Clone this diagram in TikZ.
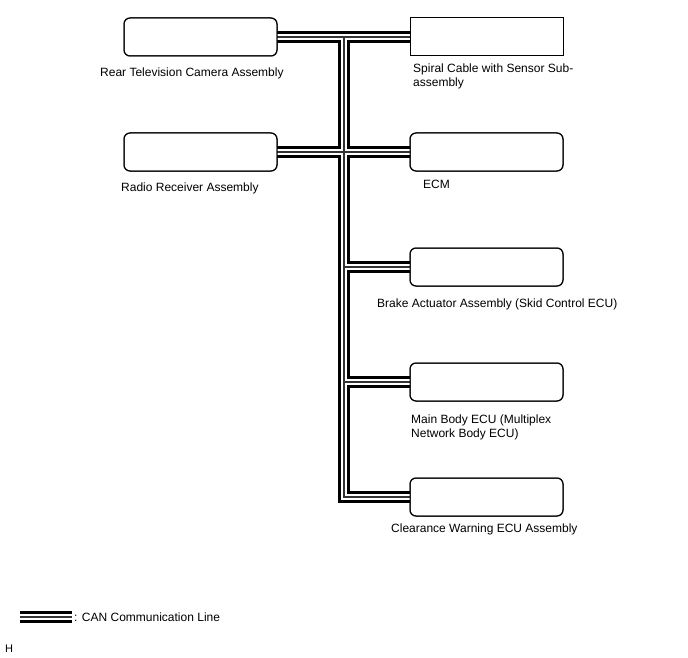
\documentclass[tikz,border=0pt]{standalone}
\usepackage{fontspec}
\setmainfont{Liberation Sans}
\begin{document}
\begin{tikzpicture}[x=1pt,y=-1pt,
  ecu/.style={draw,line width=1pt,rounded corners=6pt,minimum width=153pt,minimum height=38pt,inner sep=0pt},
  ecusq/.style={draw,line width=1pt,minimum width=153pt,minimum height=38pt,inner sep=0pt},
  lbl/.style={anchor=base west,inner sep=0pt,font=\fontsize{12}{14}\selectfont,align=left},
  canA/.style={draw=black,line width=12pt,line join=miter},
  canB/.style={draw=white,line width=6.5pt,line join=miter},
  canC/.style={draw=black!80,line width=1.2pt,line join=miter}]
\useasboundingbox (0,0) rectangle (688,658);
\node[ecu]   (rear)   at (200.5,37)  {};
\node[ecusq] (spiral) at (486.5,37)  {};
\node[ecu]   (radio)  at (200.5,152) {};
\node[ecu]   (ecm)    at (486.5,152) {};
\node[ecu]   (brake)  at (486.5,267) {};
\node[ecu]   (mainb)  at (486.5,382) {};
\node[ecu]   (clear)  at (486.5,497) {};
\coordinate (top) at (344,37);
\coordinate (jb) at (344,267);
\coordinate (jm) at (344,382);
\coordinate (bot) at (344,497);
\coordinate (lg1) at (20,617);
\coordinate (lg2) at (72,617);
\newcommand\mycanpaths[1]{%
  \path[#1] ([xshift=-0.5pt]rear.east) -- ([xshift=0.5pt]spiral.west);
  \path[#1] ([xshift=-0.5pt]radio.east) -- ([xshift=0.5pt]ecm.west);
  \path[#1] (top) -- (bot) -- ([xshift=0.5pt]clear.west);
  \path[#1] (jb) -- ([xshift=0.5pt]brake.west);
  \path[#1] (jm) -- ([xshift=0.5pt]mainb.west);
  \path[#1] (lg1) -- (lg2);}
\mycanpaths{canA}
\mycanpaths{canB}
\mycanpaths{canC}
\node[ecu]   at (rear)   {};
\node[ecusq] at (spiral) {};
\node[ecu]   at (radio)  {};
\node[ecu]   at (ecm)    {};
\node[ecu]   at (brake)  {};
\node[ecu]   at (mainb)  {};
\node[ecu]   at (clear)  {};
\node[lbl] (lrear) at (100,77) {Rear Television Camera Assembly};
\node[lbl] (lradio) at (121,191) {Radio Receiver Assembly};
\node[lbl] (lspiral) at (413,87) {Spiral Cable with Sensor Sub-\\assembly};
\node[lbl] (lecm) at (423,188) {ECM};
\node[lbl] (lbrake) at (377,307) {Brake Actuator Assembly (Skid Control ECU)};
\node[lbl] (lmain) at (411,437) {Main Body ECU (Multiplex\\Network Body ECU)};
\node[lbl] (lclear) at (391,532) {Clearance Warning ECU Assembly};
\node[lbl] (lleg) at (74,621) {: CAN Communication Line};
\node[lbl,font=\fontsize{11}{13}\selectfont] (lh) at (5,652) {H};
\end{tikzpicture}
\end{document}
